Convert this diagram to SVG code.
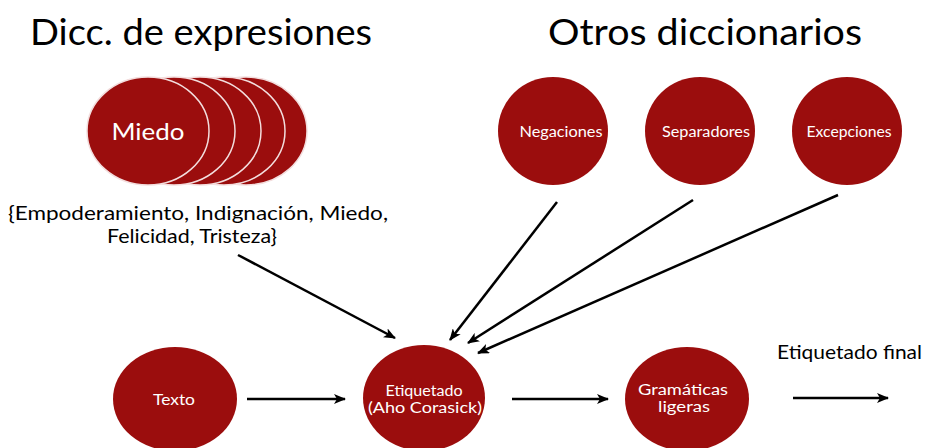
<svg xmlns="http://www.w3.org/2000/svg" width="926" height="448" viewBox="0 0 926 448">
<defs>
<marker id="ah" markerWidth="12" markerHeight="10" refX="11" refY="5" orient="auto" markerUnits="userSpaceOnUse">
<path d="M0,0 L12,5 L0,10 L3,5 Z" fill="#000"/>
</marker>
<style>
.node{fill:#9b0d0d;}
.stack{fill:#9b0d0d;stroke:#f3dede;stroke-width:1.5;}
.lbl{font-family:Lato,"Open Sans","Liberation Sans",sans-serif;fill:#fff;text-anchor:middle;font-size:15.5px;}
.title{font-family:Lato,"Open Sans","Liberation Sans",sans-serif;fill:#000;font-size:36px;}
.txt{font-family:Lato,"Open Sans","Liberation Sans",sans-serif;fill:#000;}
.conn line{stroke:#000;stroke-width:2.5;marker-end:url(#ah);}
</style>
</defs>
<rect width="926" height="448" fill="#fff"/>
<text class="title" x="30" y="45" textLength="342" lengthAdjust="spacingAndGlyphs">Dicc. de expresiones</text>
<text class="title" x="548" y="45" textLength="314" lengthAdjust="spacingAndGlyphs">Otros diccionarios</text>

<g id="miedo">
<ellipse class="stack" cx="246" cy="131" rx="61" ry="54"/>
<ellipse class="stack" cx="224" cy="131" rx="61" ry="54"/>
<ellipse class="stack" cx="200" cy="131" rx="61" ry="54"/>
<ellipse class="stack" cx="174" cy="131" rx="61" ry="54"/>
<ellipse class="stack" cx="148" cy="131" rx="61" ry="54"/>
<text class="lbl" x="148" y="140" style="font-size:24px" textLength="73" lengthAdjust="spacingAndGlyphs">Miedo</text>
</g>
<g id="sets">
<text class="txt" x="198" y="220" font-size="20" text-anchor="middle" textLength="380" lengthAdjust="spacingAndGlyphs">{Empoderamiento, Indignación, Miedo,</text>
<text class="txt" x="192" y="243" font-size="20" text-anchor="middle" textLength="170" lengthAdjust="spacingAndGlyphs">Felicidad, Tristeza}</text>
</g>
<g id="negaciones">
<ellipse class="node" cx="553" cy="131" rx="55" ry="54"/>
<text class="lbl" x="561" y="137" textLength="83" lengthAdjust="spacingAndGlyphs">Negaciones</text>
</g>
<g id="separadores">
<ellipse class="node" cx="700" cy="131" rx="55" ry="54"/>
<text class="lbl" x="706" y="137" textLength="88" lengthAdjust="spacingAndGlyphs">Separadores</text>
</g>
<g id="excepciones">
<ellipse class="node" cx="847" cy="131" rx="55" ry="54"/>
<text class="lbl" x="849" y="137" textLength="85" lengthAdjust="spacingAndGlyphs">Excepciones</text>
</g>
<g id="texto">
<ellipse class="node" cx="175" cy="399" rx="62" ry="52"/>
<text class="lbl" x="174" y="405" textLength="42" lengthAdjust="spacingAndGlyphs">Texto</text>
</g>
<g id="etiquetado">
<ellipse class="node" cx="424" cy="398" rx="61" ry="53"/>
<text class="lbl" x="424" y="396" textLength="77" lengthAdjust="spacingAndGlyphs">Etiquetado</text>
<text class="lbl" x="425" y="413" textLength="114" lengthAdjust="spacingAndGlyphs">(Aho Corasick)</text>
</g>
<g id="gramaticas">
<ellipse class="node" cx="687" cy="399" rx="62" ry="52"/>
<text class="lbl" x="683" y="395" textLength="90" lengthAdjust="spacingAndGlyphs">Gramáticas</text>
<text class="lbl" x="684" y="412" textLength="52" lengthAdjust="spacingAndGlyphs">ligeras</text>
</g>
<g id="final">
<text class="txt" x="777" y="359" font-size="19" textLength="145" lengthAdjust="spacingAndGlyphs">Etiquetado final</text>
</g>
<g class="conn" id="connectors">
<line x1="238" y1="255" x2="395" y2="338"/>
<line x1="557" y1="202" x2="450" y2="340"/>
<line x1="693" y1="200" x2="468" y2="343"/>
<line x1="838" y1="195" x2="478" y2="353"/>
<line x1="247" y1="399" x2="345" y2="399"/>
<line x1="512" y1="399" x2="608" y2="399"/>
<line x1="793" y1="398" x2="888" y2="398"/>
</g>
</svg>
